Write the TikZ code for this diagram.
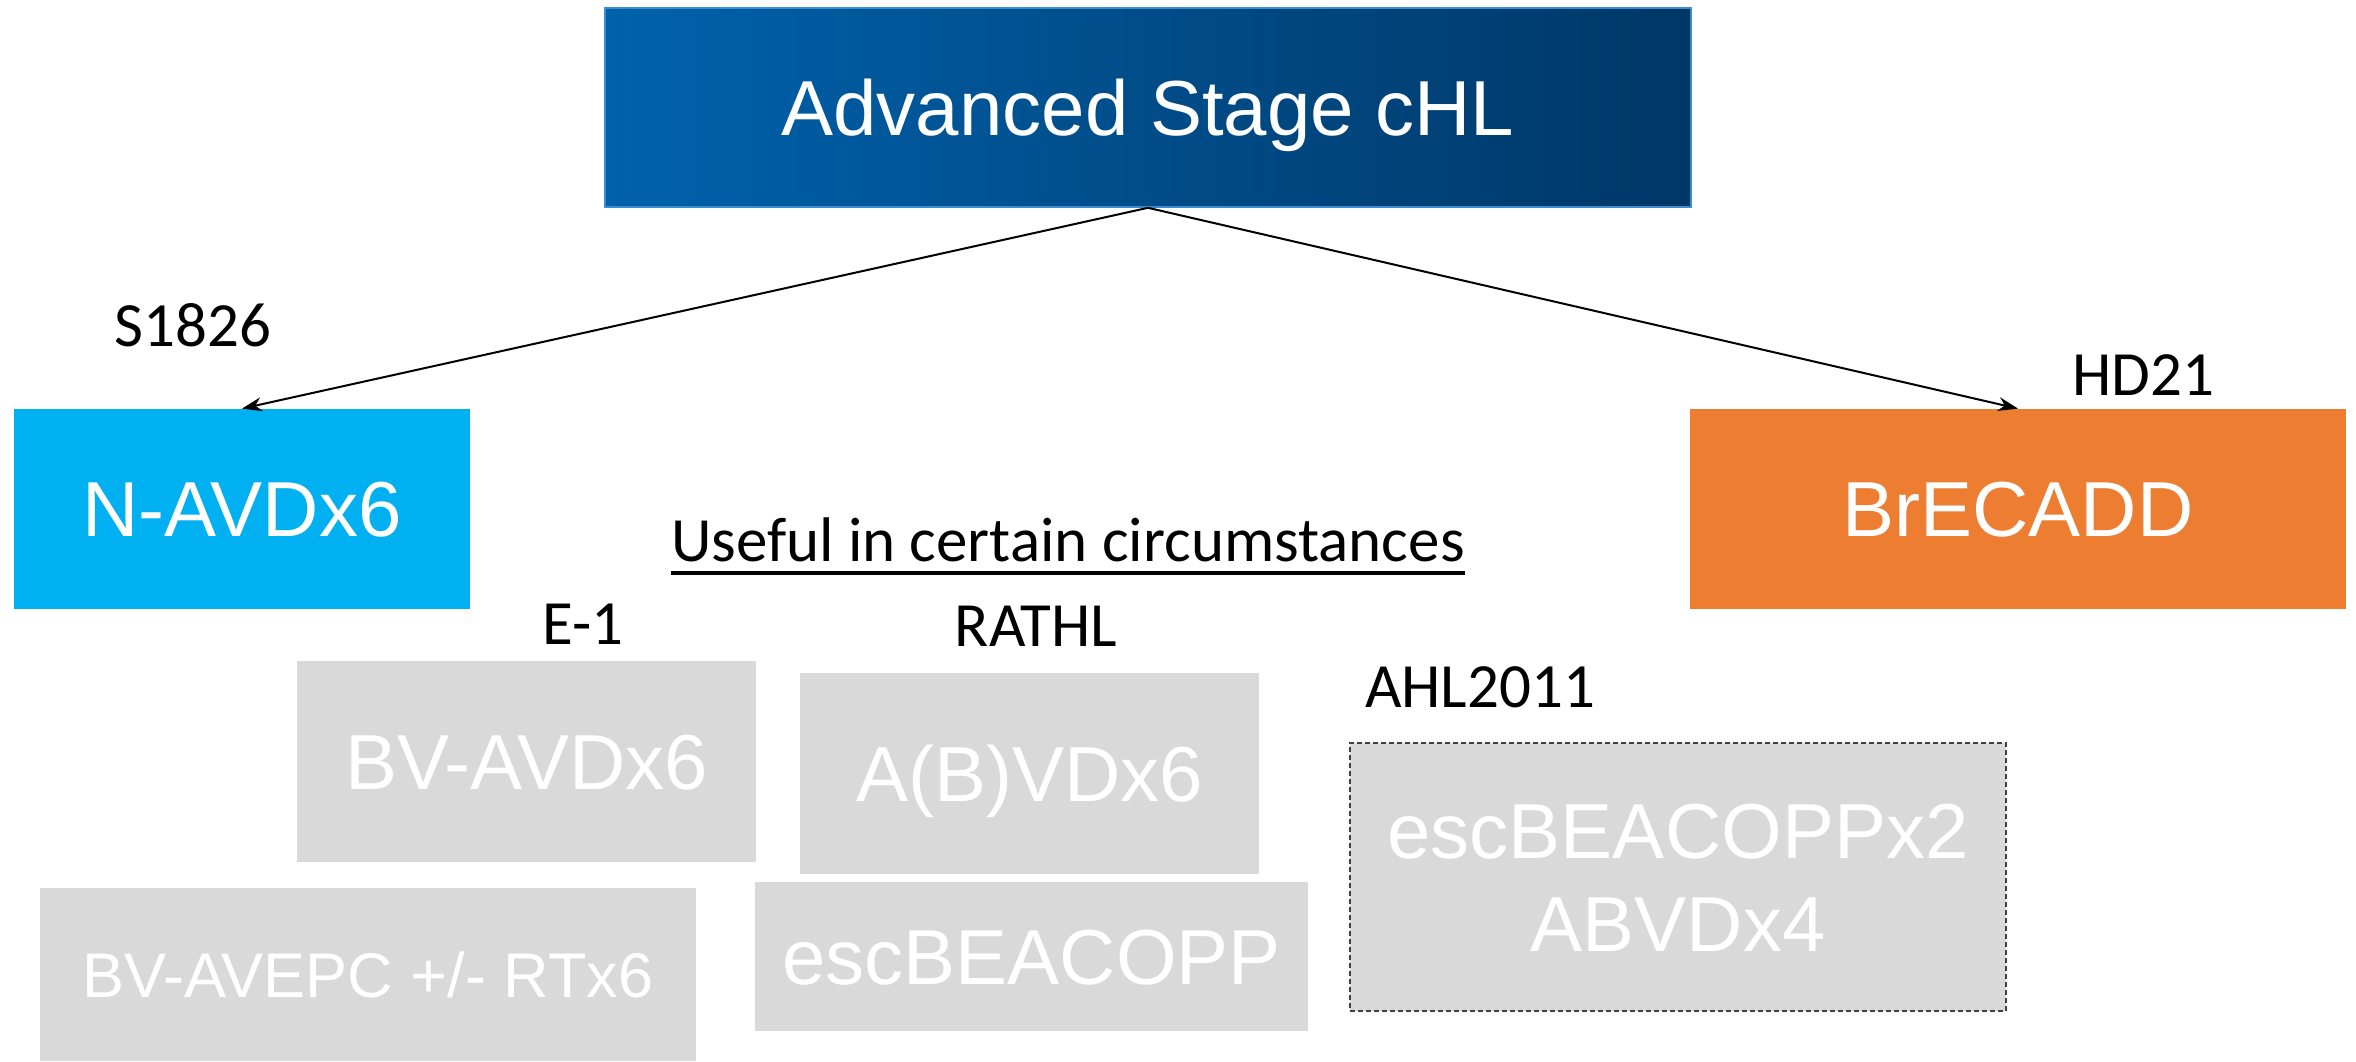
\documentclass[tikz,border=0pt]{standalone}
\usepackage{fontspec}
\setmainfont{Liberation Sans}
\newfontfamily\lblfont{Carlito}
\usetikzlibrary{arrows.meta,calc}
\definecolor{topA}{HTML}{0062AC}
\definecolor{topB}{HTML}{003766}
\definecolor{topEdge}{HTML}{3C8DD0}
\definecolor{cyanbox}{HTML}{00B0F0}
\definecolor{orangebox}{HTML}{ED7D31}
\definecolor{graybox}{HTML}{D9D9D9}
\definecolor{dashedge}{HTML}{404040}
\tikzset{
  boxbase/.style={rectangle, inner sep=0pt, text=white, font=\fontsize{39}{46.5}\selectfont, align=center, text height=27.9pt, text depth=0pt},
  topbox/.style={boxbase, draw=topEdge, line width=0.8pt, left color=topA, right color=topB},
  cyanstyle/.style={boxbase, fill=cyanbox},
  orangestyle/.style={boxbase, fill=orangebox},
  graystyle/.style={boxbase, fill=graybox},
  dashstyle/.style={boxbase, fill=graybox, draw=dashedge, line width=0.6pt, dash pattern=on 2.5pt off 1.5pt},
  lbl/.style={inner sep=0pt, anchor=base, font=\lblfont\fontsize{31.5}{37}\selectfont},
  conn/.style={line width=1pt, -{Stealth[length=10pt,width=7pt]}}
}
\begin{document}
\begin{tikzpicture}[x=0.5pt,y=-0.5pt]
\useasboundingbox (0,0) rectangle (2356,1061);
% main nodes
\node[topbox, minimum width=543pt, minimum height=99.5pt] (top) at (1148,107.5) {Advanced Stage cHL};
\node[cyanstyle, minimum width=228pt, minimum height=100pt] (navd) at (242,509) {N-AVDx6};
\node[orangestyle, minimum width=328pt, minimum height=100pt] (brec) at (2018,509) {BrECADD};
% gray boxes
\node[graystyle, minimum width=229.5pt, minimum height=100.5pt] (bvavd) at (526.5,761.5) {BV-AVDx6};
\node[graystyle, minimum width=229.5pt, minimum height=100.5pt] (abvd) at (1029.5,773.5) {A(B)VDx6};
\node[graystyle, minimum width=328pt, minimum height=86.5pt, font=\fontsize{31.5}{38}\selectfont, text height=22.6pt] (bvavepc) at (368,974.5) {BV-AVEPC +/- RTx6};
\node[graystyle, minimum width=276.5pt, minimum height=74.5pt] (escb) at (1031.5,956.5) {escBEACOPP};
\node[dashstyle, minimum width=328pt, minimum height=134pt, text height=74.4pt, text depth=0pt] (ahl) at (1678,877) {escBEACOPPx2\\ABVDx4};
% labels
\node[lbl] (s1826) at (193,346) {S1826};
\node[lbl] (hd21) at (2143,395) {HD21};
\node[lbl] (e1) at (583,644) {E-1};
\node[lbl] (rathl) at (1036,646) {RATHL};
\node[lbl] (ahllbl) at (1480,707) {AHL2011};
\node[lbl] (useful) at (1068,561) {Useful in certain circumstances};
\draw[line width=2pt] ($(useful.base west)+(0,12)$) -- ($(useful.base east)+(0,12)$);
% connectors
\draw[conn] (top.south) -- (navd.north);
\draw[conn] (top.south) -- (brec.north);
\end{tikzpicture}
\end{document}
